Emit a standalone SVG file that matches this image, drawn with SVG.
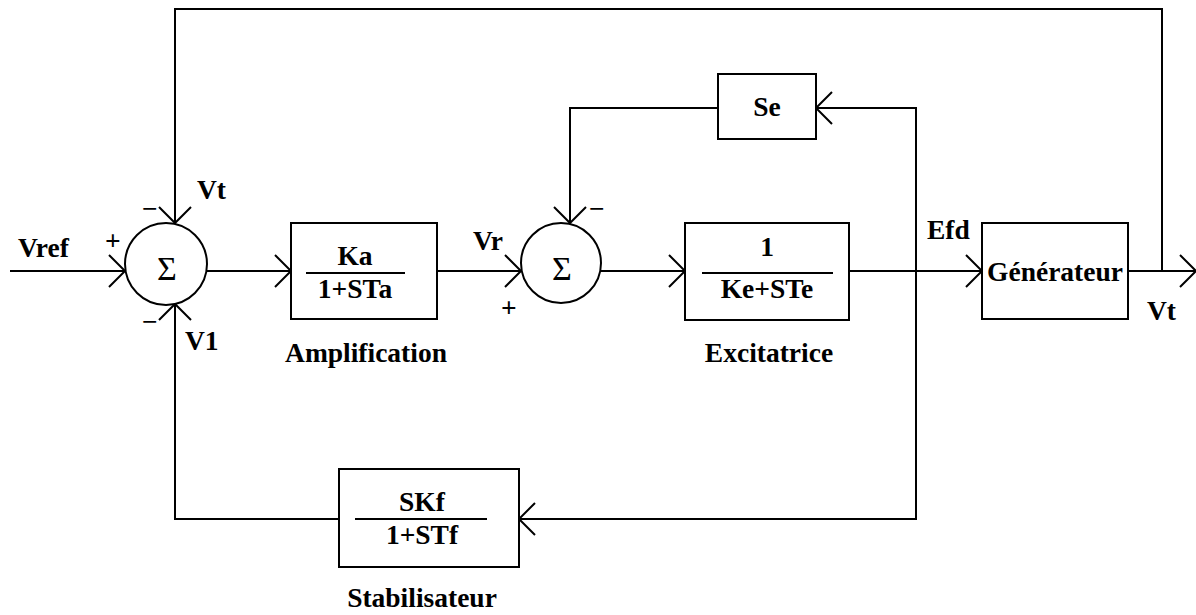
<svg xmlns="http://www.w3.org/2000/svg" width="1196" height="615" viewBox="0 0 1196 615">
<style>
.b{fill:#fff;stroke:#000;stroke-width:2}
.w{fill:none;stroke:#000;stroke-width:2}
.t{font-family:'Liberation Serif','DejaVu Serif',serif;font-weight:bold;font-size:27.5px;fill:#000}
.m{text-anchor:middle}
.s{font-family:'Liberation Serif','DejaVu Serif',serif;font-size:34px;fill:#000;text-anchor:middle}
</style>
<defs>
<marker id="ar" markerUnits="userSpaceOnUse" markerWidth="40" markerHeight="40" refX="20" refY="20" orient="auto" overflow="visible">
<path d="M4,4 L20,20 L4,36" fill="none" stroke="#000" stroke-width="2"/>
</marker>
</defs>
<rect width="1196" height="615" fill="#fff"/>
<g id="connectors" class="w">
<path d="M10,271 H125" marker-end="url(#ar)"/>
<path d="M207,271 H291" marker-end="url(#ar)"/>
<path d="M437,271 H521" marker-end="url(#ar)"/>
<path d="M601,271 H685" marker-end="url(#ar)"/>
<path d="M849,271 H982" marker-end="url(#ar)"/>
<path d="M1128,271 H1196" marker-end="url(#ar)"/>
<path d="M1162,271 V9 H175 V223" marker-end="url(#ar)"/>
<path d="M916,271 V108 H816" marker-end="url(#ar)"/>
<path d="M718,108 H570 V223" marker-end="url(#ar)"/>
<path d="M916,271 V519 H519" marker-end="url(#ar)"/>
<path d="M339,519 H175 V304" marker-end="url(#ar)"/>
</g>
<g id="sum1">
<circle class="b" cx="166" cy="264" r="41"/>
<text class="s" x="167" y="280">Σ</text>
<text class="t" x="197" y="199">Vt</text>
<text class="t" x="142" y="218">−</text>
<text class="t" x="105" y="250">+</text>
<text class="t" x="142" y="331">−</text>
<text class="t" x="185" y="350">V1</text>
</g>
<text id="vref" class="t" x="18" y="257">Vref</text>
<g id="amp">
<rect class="b" x="291" y="223" width="146" height="96"/>
<line class="w" x1="306" y1="273" x2="405" y2="273"/>
<text class="t m" x="355" y="265">Ka</text>
<text class="t m" x="355" y="298">1+STa</text>
<text class="t m" x="366" y="362">Amplification</text>
</g>
<g id="sum2">
<circle class="b" cx="561" cy="263" r="40"/>
<text class="s" x="562" y="280">Σ</text>
<text class="t" x="473" y="250">Vr</text>
<text class="t" x="589" y="218">−</text>
<text class="t" x="501" y="317">+</text>
</g>
<g id="exc">
<rect class="b" x="685" y="223" width="164" height="97"/>
<line class="w" x1="702" y1="273" x2="833" y2="273"/>
<text class="t m" x="767" y="256">1</text>
<text class="t m" x="767" y="298">Ke+STe</text>
<text class="t m" x="769" y="362">Excitatrice</text>
</g>
<g id="se">
<rect class="b" x="718" y="74" width="98" height="65"/>
<text class="t m" x="767" y="116">Se</text>
</g>
<g id="gen">
<rect class="b" x="982" y="223" width="146" height="96"/>
<text class="t m" x="1055" y="281">Générateur</text>
<text class="t" x="927" y="239">Efd</text>
<text class="t" x="1147" y="320">Vt</text>
</g>
<g id="stab">
<rect class="b" x="339" y="469" width="180" height="98"/>
<line class="w" x1="355" y1="519" x2="487" y2="519"/>
<text class="t m" x="422" y="511">SKf</text>
<text class="t m" x="422" y="544">1+STf</text>
<text class="t m" x="422" y="607">Stabilisateur</text>
</g>
</svg>
